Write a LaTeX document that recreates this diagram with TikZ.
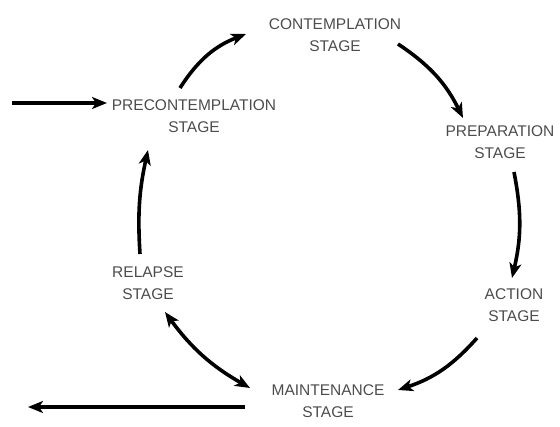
\documentclass[tikz,border=0pt]{standalone}
\usepackage{fontspec}
\setmainfont{Liberation Sans}
\usetikzlibrary{arrows.meta}
\begin{document}
\begin{tikzpicture}[x=1pt,y=-1pt,
  lbl/.style={align=center,inner sep=0pt,text=black!70,
    font=\fontsize{15.5}{22}\selectfont},
  tip/.style={Stealth[length=15pt,width=12pt,inset=4pt]},
  arr/.style={line width=3.6pt,-{Stealth[length=15pt,width=12pt,inset=4pt]}},
  darr/.style={line width=3.6pt,{Stealth[length=15pt,width=12pt,inset=4pt]}-{Stealth[length=15pt,width=12pt,inset=4pt]}}]
\useasboundingbox (0,0) rectangle (560,427);
\node[lbl] (cont) at (335,35) {CONTEMPLATION\\STAGE};
\node[lbl] (pre) at (194,116) {PRECONTEMPLATION\\STAGE};
\node[lbl] (prep) at (500,142) {PREPARATION\\STAGE};
\node[lbl] (act) at (514,305) {ACTION\\STAGE};
\node[lbl] (maint) at (328,401) {MAINTENANCE\\STAGE};
\node[lbl] (rel) at (148,283) {RELAPSE\\STAGE};
\coordinate (in) at (12,103);
\coordinate (out) at (28,407);
\draw[arr] (in) -- ([shift={(-87,-13)}]pre.center);
\draw[arr] ([shift={(-14,-28)}]pre.center) to[bend left=18] ([shift={(-89,-1)}]cont.center);
\draw[arr] ([shift={(63,9)}]cont.center) to[bend left=15] ([shift={(-37,-24)}]prep.center);
\draw[arr] ([shift={(14,30)}]prep.center) to[bend left=12] ([shift={(-2,-27)}]act.center);
\draw[arr] ([shift={(-37,33)}]act.center) to[bend left=15] ([shift={(70,-11)}]maint.center);
\draw[darr] ([shift={(-78,-13)}]maint.center) to[bend left=12] ([shift={(17,29)}]rel.center);
\draw[arr] ([shift={(-8,-29)}]rel.center) to[bend left=8] ([shift={(-46,34)}]pre.center);
\draw[arr] ([shift={(-83,6)}]maint.center) -- (out);
\end{tikzpicture}
\end{document}
